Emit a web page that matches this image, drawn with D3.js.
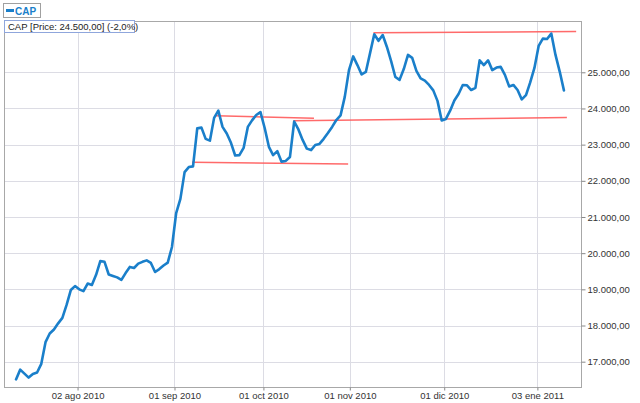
<!DOCTYPE html>
<html>
<head>
<meta charset="utf-8">
<script src="https://cdn.jsdelivr.net/npm/d3@7"></script>
<style>
  html, body { margin: 0; padding: 0; background: #fff; }
  svg { display: block; font-family: "Liberation Sans", Arial, sans-serif; }
</style>
</head>
<body>
<svg id="chart" width="640" height="403"></svg>
<script>
// ---- DATA ----
const seriesName = "CAP";
const lastPrice = "24.500,00";
const lastChange = "(-2,0%)";

// daily closing prices (trading-day index = position in array)
const prices = [
  16510, 16780, 16670, 16560, 16660, 16700, 16940, 17540, 17780, 17890,
  18060, 18210, 18570, 18980, 19090, 19000, 18950, 19160, 19120, 19400,
  19780, 19760, 19410, 19370, 19330, 19260, 19450, 19620, 19590, 19710,
  19760, 19800, 19730, 19480, 19560, 19660, 19740, 20170, 21110, 21500,
  22240, 22380, 22400, 23450, 23470, 23160, 23110, 23740, 23940, 23490,
  23310, 23050, 22700, 22710, 22910, 23490, 23670, 23820, 23900, 23460,
  22940, 22710, 22820, 22530, 22550, 22660, 23640, 23420, 23130, 22890,
  22850, 22990, 23020, 23160, 23320, 23490, 23680, 23810, 24320, 25060,
  25440, 25200, 24940, 25010, 25530, 26050, 25870, 26030, 25700, 25310,
  24870, 24790, 25090, 25480, 25400, 25040, 24830, 24770, 24650, 24500,
  24210, 23670, 23710, 23940, 24220, 24400, 24650, 24640, 24510, 24570,
  25330, 25200, 25330, 25060, 25130, 25150, 24930, 24610, 24650, 24510,
  24250, 24370, 24720, 25120, 25730, 25930, 25920, 26070, 25480, 25020,
  24500
];

// date tick labels and their trading-day position
const xTickLabels = ["02 ago 2010", "01 sep 2010", "01 oct 2010", "01 nov 2010", "01 dic 2010", "03 ene 2011"];
const xTickPos = [14.6, 37.6, 58.7, 79.2, 101.6, 123.7];

const yTicks = [17000, 18000, 19000, 20000, 21000, 22000, 23000, 24000, 25000];

// drawn trend lines: [startIndex, startValue, endIndex, endValue]
const trendStartIdx = [41.75, 47.45, 65.8, 84.8];
const trendStartVal = [22512, 23800, 23662, 26095];
const trendEndIdx   = [78.8, 70.7, 130.7, 132.9];
const trendEndVal   = [22465, 23728, 23750, 26128];

// ---- LAYOUT ----
const plot = { left: 4, right: 581, top: 21, bottom: 387 };
const svg = d3.select("#chart");

const x = d3.scaleLinear().domain([-2.85, 134.05]).range([plot.left, plot.right]);
const y = d3.scaleLinear().domain([16300, 26418]).range([plot.bottom, plot.top]);

const fmt = v => {
  const s = d3.format(",.2f")(v);
  return s.replace(/,/g, "#").replace(/\./g, ",").replace(/#/g, ".");
};

// grid
const grid = svg.append("g");
grid.selectAll("line.h").data(yTicks).join("line")
  .attr("x1", plot.left).attr("x2", plot.right)
  .attr("y1", d => Math.round(y(d)) + 0.5).attr("y2", d => Math.round(y(d)) + 0.5)
  .attr("stroke", "#dcdce4").attr("stroke-width", 1);
grid.selectAll("line.v").data(xTickPos).join("line")
  .attr("y1", plot.top).attr("y2", plot.bottom)
  .attr("x1", d => Math.round(x(d)) + 0.5).attr("x2", d => Math.round(x(d)) + 0.5)
  .attr("stroke", "#dcdce4").attr("stroke-width", 1);

// border
svg.append("rect")
  .attr("x", plot.left + 0.5).attr("y", plot.top + 0.5)
  .attr("width", plot.right - plot.left).attr("height", plot.bottom - plot.top)
  .attr("fill", "none").attr("stroke", "#a8a8a8");

// right axis
const yAxis = d3.axisRight(y).tickValues(yTicks).tickSize(4).tickPadding(2).tickFormat(fmt);
const ya = svg.append("g").attr("transform", `translate(${plot.right + 0.5},0)`).call(yAxis);
ya.select(".domain").remove();
ya.selectAll(".tick line").attr("stroke", "#888");
ya.selectAll(".tick text").attr("fill", "#333").style("font-size", "9.5px")
  .style("font-family", "'Liberation Sans', Arial, sans-serif");

// bottom axis
const xAxis = d3.axisBottom(x).tickValues(xTickPos).tickSize(3).tickPadding(2)
  .tickFormat((d, i) => xTickLabels[i]);
const xa = svg.append("g").attr("transform", `translate(0,${plot.bottom + 0.5})`).call(xAxis);
xa.select(".domain").remove();
xa.selectAll(".tick line").attr("stroke", "#888");
xa.selectAll(".tick text").attr("fill", "#333").style("font-size", "9.5px")
  .style("font-family", "'Liberation Sans', Arial, sans-serif");

// trend lines
const trends = trendStartIdx.map((s, i) => ({ x1: s, y1: trendStartVal[i], x2: trendEndIdx[i], y2: trendEndVal[i] }));
svg.append("g").selectAll("line").data(trends).join("line")
  .attr("x1", d => x(d.x1)).attr("y1", d => y(d.y1))
  .attr("x2", d => x(d.x2)).attr("y2", d => y(d.y2))
  .attr("stroke", "#ff5a5a").attr("stroke-width", 1.5).attr("stroke-opacity", 0.9);

// price line
const line = d3.line().x((d, i) => x(i)).y(d => y(d));
svg.append("path").datum(prices)
  .attr("d", line).attr("fill", "none")
  .attr("stroke", "#1a7fca").attr("stroke-width", 2.6)
  .attr("stroke-linejoin", "round").attr("stroke-linecap", "round");

// legend 1
const lg = svg.append("g");
lg.append("rect").attr("x", 3.5).attr("y", 3.5).attr("width", 37).attr("height", 14)
  .attr("fill", "#fff").attr("stroke", "#a0a0a0");
lg.append("line").attr("x1", 6).attr("x2", 14).attr("y1", 10.5).attr("y2", 10.5)
  .attr("stroke", "#1a7fca").attr("stroke-width", 3);
lg.append("text").attr("x", 15).attr("y", 14.5).text(seriesName)
  .attr("fill", "#1a7fca").style("font-size", "10px").style("font-weight", "bold");

// legend 2
const lg2 = svg.append("g");
lg2.append("rect").attr("x", 4.5).attr("y", 20.5).attr("width", 130).attr("height", 12)
  .attr("fill", "#fff").attr("stroke", "#8fa6dc");
lg2.append("text").attr("x", 8).attr("y", 30).text(`${seriesName} [Price: ${lastPrice}] ${lastChange}`)
  .attr("fill", "#222").style("font-size", "9.5px");
</script>
</body>
</html>
